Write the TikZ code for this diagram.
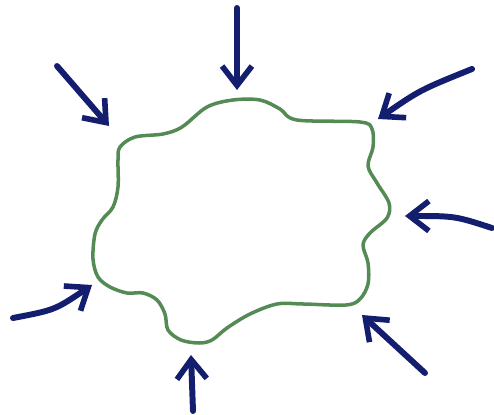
\documentclass[tikz,border=0pt]{standalone}
\usetikzlibrary{arrows.meta}
\definecolor{encre}{RGB}{20,30,110}
\definecolor{vert}{RGB}{84,138,84}
\newcommand{\epais}[0]{3.4pt}
\newcommand{\pousse}[2]{\draw[fleche] (#1) -- (#2)}
\newcommand{\courbe}[3]{\draw[fleche] (#1) .. controls (#2) .. (#3)}

\begin{document}
\begin{tikzpicture}[x=0.02cm, y=-0.02cm,
	fleche/.style={encre, line width=\epais, line cap=round,
		-{Straight Barb[length=11pt, width=17pt, line width=3.2pt]}},
	contour/.style={vert, line width=2pt, line join=round}]
	\useasboundingbox (0,0) rectangle (494,415);
%The blob
	\draw[contour] plot[smooth cycle, tension=0.55] coordinates {
		(120,147) (135,137) (163,134) (182,127) (207,107) (233,100)
		(260,100) (280,109) (297,120) (360,122) (372,129) (373,147)
		(368,166) (377,183) (389,203) (387,218) (370,233) (363,245)
		(368,263) (368,284) (360,299) (346,305) (303,304) (277,304)
		(250,314) (227,328) (212,340) (199,343) (181,340) (168,330)
		(165,314) (157,300) (143,293) (127,293) (110,287) (98,277)
		(93,259) (95,234) (102,220) (113,207) (118,187) (118,160)};
%Tails and heads
	\coordinate (haut1) at (237,8);	\coordinate (haut2) at (237,90);
	\coordinate (hg1) at (57,66);	\coordinate (hg2) at (109,126);
	\coordinate (hd1) at (472,69);	\coordinate (hd2) at (378,119);
	\coordinate (hdc) at (420,90);
	\coordinate (dr1) at (492,228);	\coordinate (dr2) at (405,216);
	\coordinate (drc) at (455,216);
	\coordinate (bd1) at (425,373);	\coordinate (bd2) at (362,315);
	\coordinate (bas1) at (193,411);	\coordinate (bas2) at (191,355);
	\coordinate (ga1) at (13,318);	\coordinate (ga2) at (92,285);
	\coordinate (gac) at (55,310);
%The arrows
	\pousse{haut1}{haut2};
	\pousse{hg1}{hg2};
	\courbe{hd1}{hdc}{hd2};
	\courbe{dr1}{drc}{dr2};
	\pousse{bd1}{bd2};
	\pousse{bas1}{bas2};
	\courbe{ga1}{gac}{ga2};
\end{tikzpicture}
\end{document}
